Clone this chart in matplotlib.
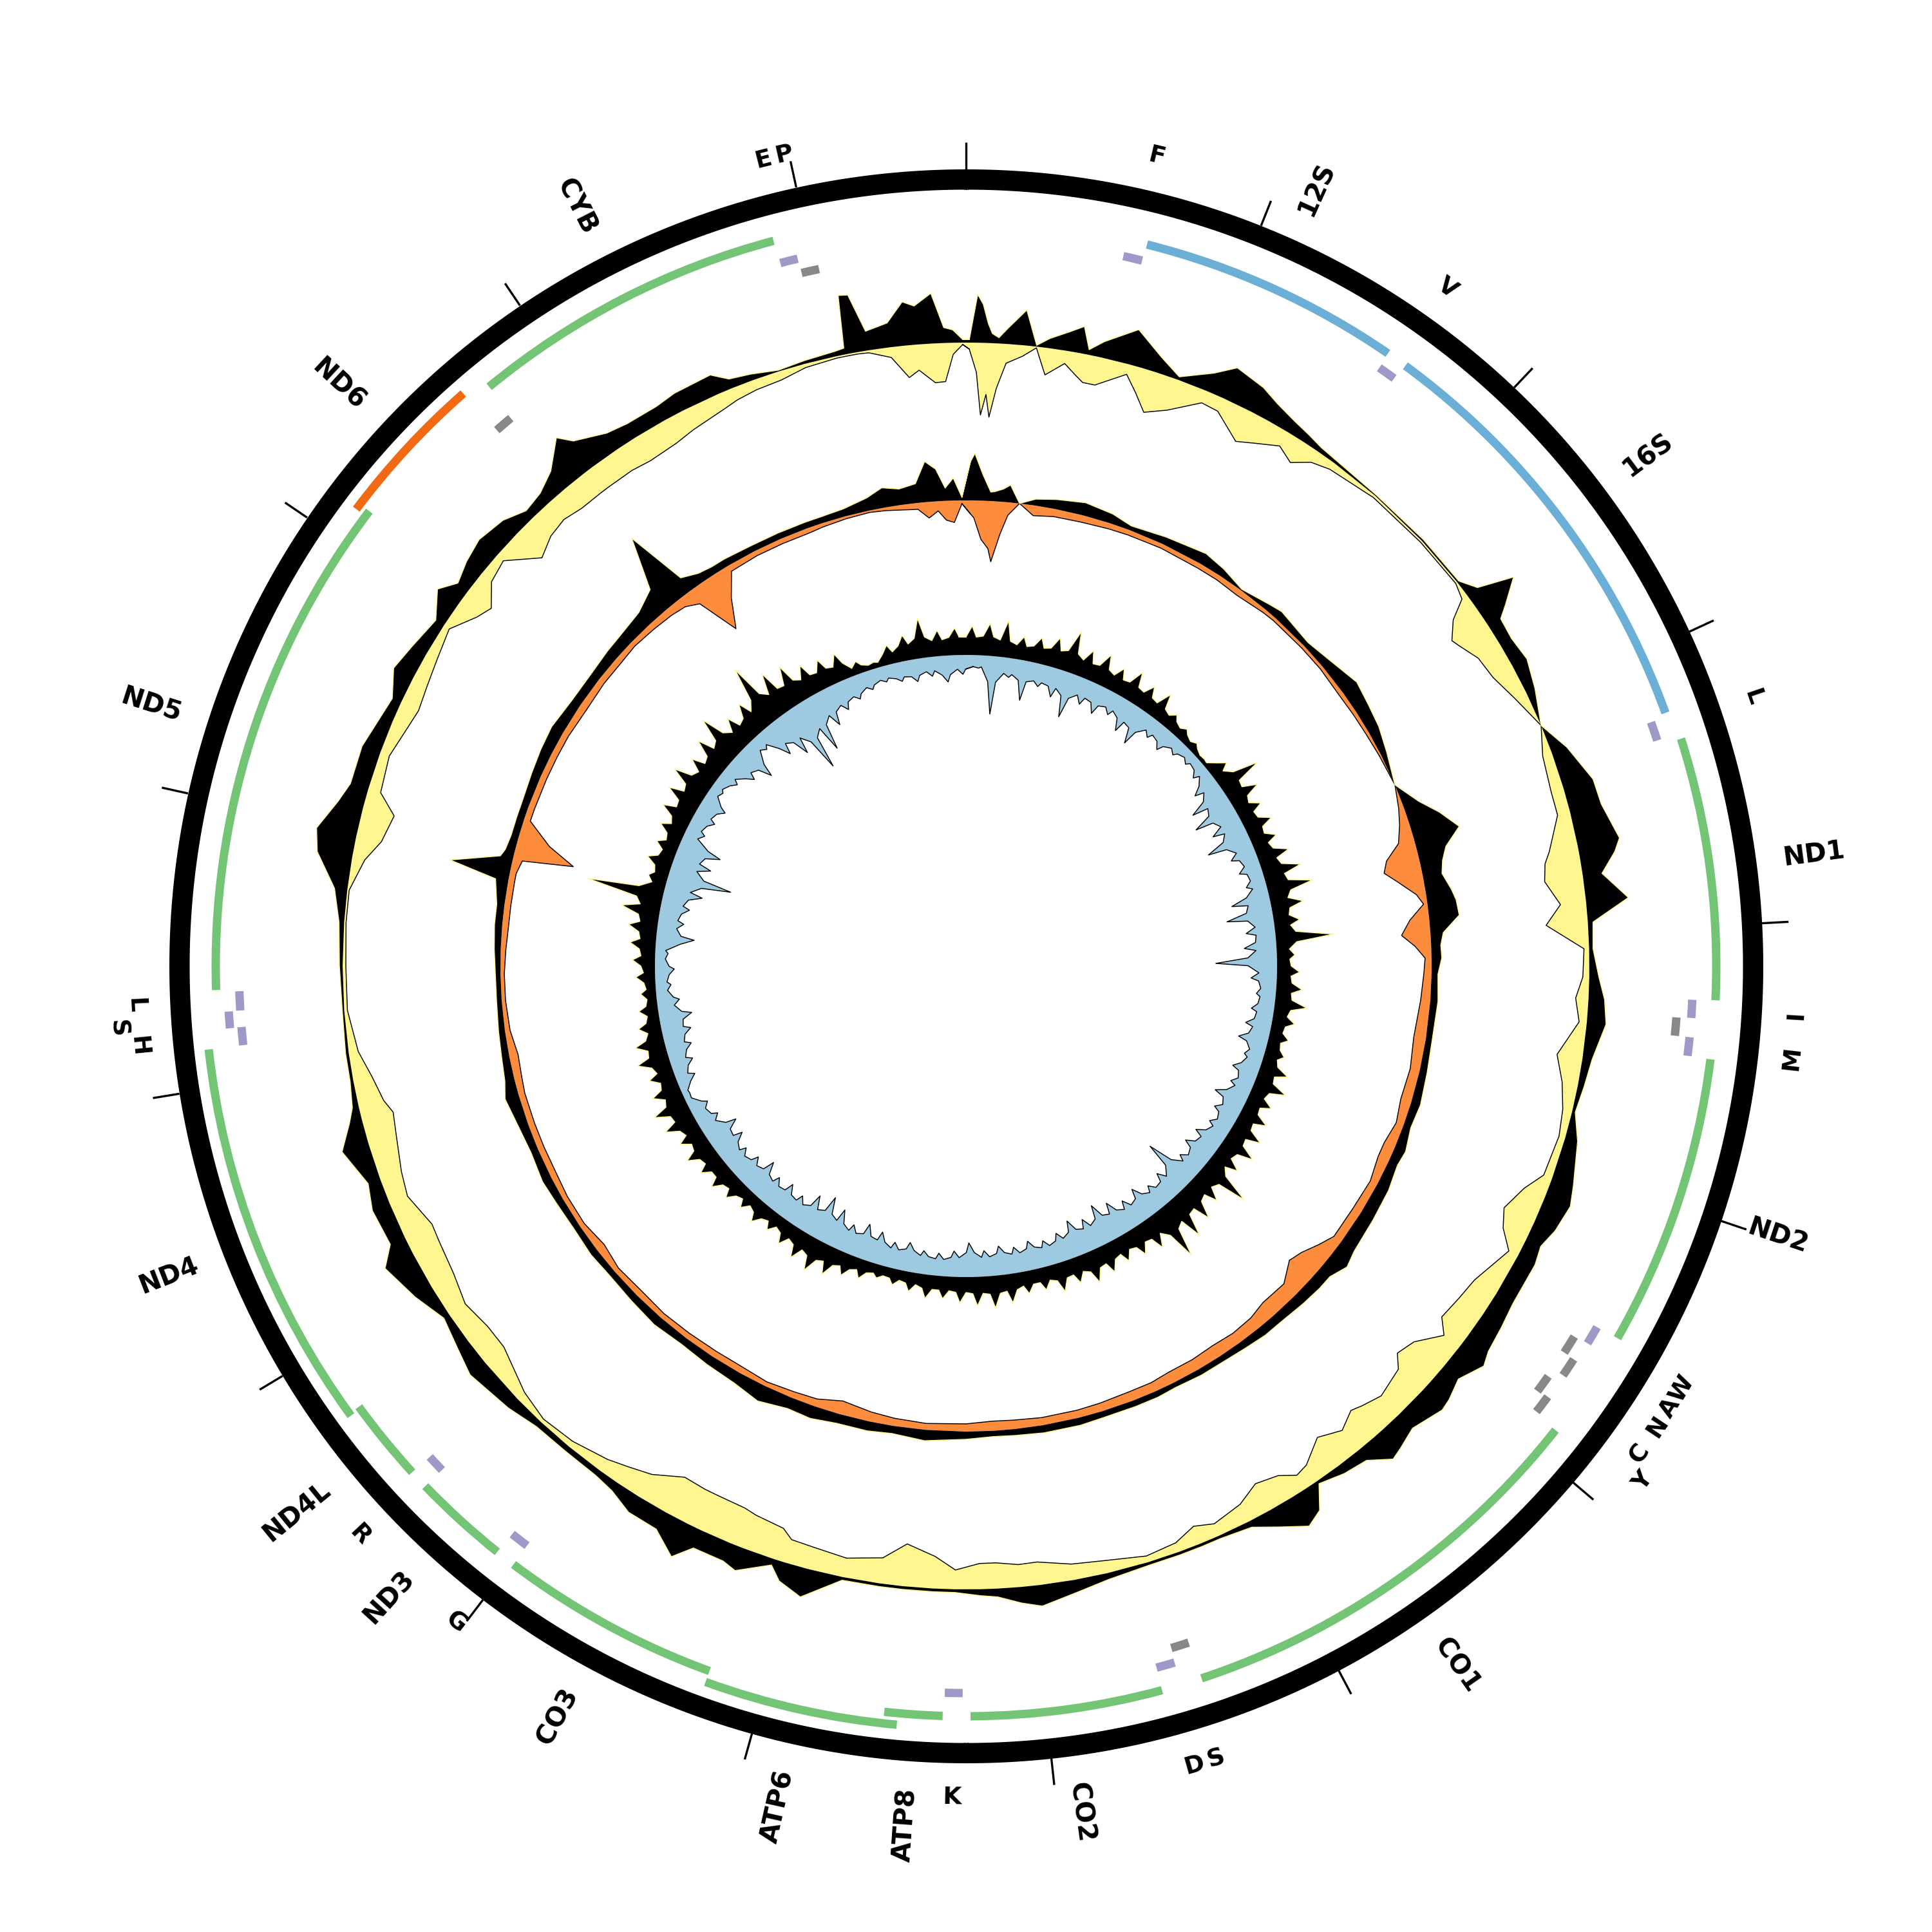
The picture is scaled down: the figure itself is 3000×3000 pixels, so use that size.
import numpy as np
import matplotlib
matplotlib.use("Agg")
import matplotlib.pyplot as plt

GENOME_LEN = 16566

# --- genome features ---
feat_name = ['F', '12S', 'V', '16S', 'L1', 'ND1', 'I', 'Q', 'M', 'ND2', 'W', 'A', 'N', 'C', 'Y',
             'CO1', 'S1', 'D', 'CO2', 'K', 'ATP8', 'ATP6', 'CO3', 'G', 'ND3', 'R', 'ND4L', 'ND4',
             'H', 'S2', 'L2', 'ND5', 'ND6', 'E', 'CYB', 'T', 'P']
feat_label = ['F', '12S', 'V', '16S', 'L', 'ND1', 'I', '', 'M', 'ND2', 'W', 'A', 'N', 'C', 'Y',
              'CO1', 'S', 'D', 'CO2', 'K', 'ATP8', 'ATP6', 'CO3', 'G', 'ND3', 'R', 'ND4L', 'ND4',
              'H', 'S', 'L', 'ND5', 'ND6', '', 'CYB', 'E', 'P']
feat_start = [575, 648, 1594, 1666, 3240, 3330, 4264, 4332, 4400, 4470, 5512, 5584, 5656, 5760, 5822,
              5900, 7445, 7516, 7586, 8295, 8365, 8523, 9203, 9992, 10062, 10405, 10472, 10760,
              12137, 12202, 12263, 12340, 14120, 14670, 14750, 15885, 15952]
feat_end = [645, 1590, 1660, 3226, 3310, 4262, 4330, 4400, 4468, 5510, 5580, 5654, 5726, 5828, 5890,
            7441, 7512, 7584, 8267, 8360, 8571, 9203, 9990, 10060, 10405, 10470, 10769, 12135,
            12203, 12262, 12333, 14142, 14666, 14738, 15882, 15950, 16018]
feat_kind = ['trna', 'rrna', 'trna', 'rrna', 'trna', 'cds', 'trna', 'trna_minus', 'trna', 'cds',
             'trna', 'trna_minus', 'trna_minus', 'trna_minus', 'trna_minus',
             'cds', 'trna_minus', 'trna', 'cds', 'trna', 'cds', 'cds', 'cds', 'trna', 'cds', 'trna',
             'cds', 'cds', 'trna', 'trna', 'trna', 'cds', 'cds_minus', 'trna_minus', 'cds', 'trna',
             'trna_minus']

# --- outer data track (black outward / yellow inward) ---
yel_pos = [14, 46, 69, 92, 110, 138, 175, 244, 299, 350,
           428, 483, 520, 575, 699, 759, 819, 916, 1045, 1123,
           1252, 1335, 1431, 1509, 1583, 1666, 1887, 2163, 2393, 2462,
           2513, 2586, 2623, 2715, 2821, 2945, 3097, 3221, 3378, 3483,
           3631, 3681, 3760, 3870, 3957, 4068, 4188, 4280, 4381, 4533,
           4648, 4763, 4878, 5057, 5140, 5255, 5338, 5416, 5600, 5706,
           5817, 5876, 5982, 6070, 6120, 6258, 6350, 6401, 6488, 6594,
           6705, 6764, 6834, 6939, 7041, 7179, 7266, 7363, 7501, 7680,
           7823, 7970, 8053, 8150, 8223, 8329, 8421, 8550, 8651, 8808,
           8960, 9061, 9111, 9245, 9305, 9438, 9503, 9609, 9742, 9848,
           9940, 10106, 10262, 10400, 10607, 10722, 10860, 10998, 11159, 11237,
           11394, 11504, 11661, 11766, 11826, 11937, 12056, 12236, 12425, 12609,
           12747, 12885, 12977, 13101, 13184, 13345, 13483, 13575, 13690, 13805,
           13948, 14058, 14127, 14219, 14321, 14445, 14541, 14633, 14725, 14827,
           14873, 15002, 15094, 15232, 15324, 15489, 15554, 15646, 15761, 15876,
           16014, 16051, 16069, 16106, 16152, 16244, 16313, 16359, 16428, 16474,
           16511, 16552]
yel_up = [5, 75, 60, 30, 15, 9, 25, 55, 2, 15,
          30, 42, 8, 25, 56, 40, 25, 5, 30, 52,
          42, 30, 20, 14, 8, 5, 2, 3, 3, 20,
          75, 40, 22, 20, 25, 15, 0, 25, 48, 50,
          66, 55, 30, 66, 8, 6, 15, 25, 30, 15,
          10, 5, 20, 35, 42, 35, 25, 30, 30, 35,
          40, 48, 30, 40, 43, 30, 40, 45, 20, 15,
          5, 40, 52, 30, 10, 5, 5, 5, 5, 10,
          20, 33, 25, 13, 10, 5, 5, 5, 5, 5,
          45, 30, 10, 37, 30, 30, 57, 30, 29, 15,
          10, 9, 10, 20, 30, 20, 10, 30, 49, 25,
          29, 20, 43, 20, 10, 5, 5, 3, 5, 8,
          20, 55, 63, 40, 29, 30, 20, 15, 34, 25,
          15, 40, 20, 30, 37, 30, 15, 20, 35, 70,
          50, 30, 25, 25, 30, 32, 15, 10, 2, 5,
          8, 10, 92, 90, 30, 38, 68, 60, 78, 24,
          20, 5]
yel_down = [10, 46, 112, 80, 115, 70, 30, 17, 2, 42,
            20, 35, 44, 44, 16, 40, 65, 50, 20, 22,
            52, 40, 25, 38, 20, 12, 4, 3, 3, 10,
            40, 60, 55, 40, 35, 20, 0, 15, 20, 20,
            45, 55, 60, 40, 65, 8, 10, 20, 12, 40,
            25, 15, 10, 14, 35, 52, 40, 16, 40, 45,
            50, 30, 60, 68, 50, 40, 49, 55, 40, 55,
            30, 25, 40, 47, 30, 20, 29, 15, 10, 20,
            25, 36, 35, 40, 40, 30, 50, 66, 40, 30,
            35, 37, 50, 55, 59, 60, 60, 62, 40, 30,
            21, 10, 6, 15, 38, 38, 30, 40, 45, 47,
            30, 35, 45, 50, 40, 30, 15, 5, 5, 3,
            3, 20, 40, 50, 20, 15, 25, 30, 25, 19,
            10, 35, 45, 20, 13, 54, 40, 35, 40, 40,
            40, 40, 43, 40, 34, 25, 20, 16, 14, 6,
            3, 3, 3, 3, 4, 16, 50, 40, 61, 60,
            18, 3]

# --- middle data track (black outward / orange inward) ---
ora_pos = [23, 46, 92, 138, 161, 207, 244, 304, 391, 506,
           667, 828, 948, 1150, 1390, 1519, 1666, 1841, 1919, 2144,
           2301, 2485, 2623, 2756, 2899, 3088, 3221, 3313, 3414, 3497,
           3566, 3635, 3727, 3787, 3870, 3957, 4026, 4096, 4188, 4339,
           4556, 4740, 4924, 5062, 5195, 5283, 5430, 5614, 5812, 5904,
           6005, 6088, 6212, 6378, 6488, 6626, 6764, 6907, 7068, 7179,
           7312, 7501, 7639, 7846, 8007, 8131, 8283, 8513, 8697, 8835,
           9010, 9157, 9295, 9461, 9618, 9802, 9986, 10170, 10354, 10538,
           10694, 10860, 11044, 11182, 11357, 11504, 11684, 11780, 11909, 12056,
           12227, 12379, 12517, 12655, 12770, 12908, 12959, 13037, 13078, 13161,
           13271, 13345, 13529, 13667, 13805, 13989, 14173, 14325, 14449, 14597,
           14725, 14817, 14895, 14988, 15070, 15153, 15324, 15485, 15646, 15738,
           15876, 16014, 16106, 16198, 16290, 16350, 16405, 16451, 16497, 16543]
ora_up = [60, 73, 40, 14, 15, 20, 27, 0, 10, 15,
          20, 15, 7, 12, 18, 12, 2, 10, 14, 8,
          15, 27, 22, 18, 10, 0, 25, 50, 73, 45,
          35, 30, 40, 45, 47, 20, 15, 16, 10, 12,
          10, 12, 15, 12, 18, 15, 20, 22, 25, 31,
          20, 20, 18, 15, 15, 12, 10, 10, 8, 10,
          10, 10, 12, 12, 10, 9, 12, 17, 12, 15,
          15, 20, 18, 26, 18, 15, 12, 15, 12, 10,
          12, 10, 12, 15, 12, 15, 22, 15, 12, 10,
          8, 8, 10, 12, 12, 20, 95, 20, 15, 12,
          12, 12, 15, 18, 20, 15, 15, 18, 20, 25,
          40, 120, 25, 15, 12, 12, 10, 10, 10, 10,
          12, 20, 31, 25, 30, 63, 50, 20, 35, 5]
ora_down = [20, 27, 60, 74, 94, 50, 20, 0, 16, 12,
            11, 9, 8, 7, 8, 8, 10, 6, 5, 5,
            5, 7, 6, 5, 3, 0, 8, 15, 25, 50,
            58, 40, 15, 6, 30, 45, 25, 10, 12, 15,
            19, 15, 17, 12, 18, 18, 12, 14, 14, 25,
            38, 44, 25, 26, 20, 18, 20, 18, 18, 15,
            15, 13, 12, 12, 14, 15, 12, 10, 12, 15,
            21, 12, 10, 7, 10, 10, 9, 8, 10, 8,
            14, 8, 8, 10, 10, 10, 10, 12, 14, 8,
            6, 6, 8, 10, 10, 10, 10, 15, 94, 50,
            10, 10, 10, 10, 10, 12, 10, 10, 8, 10,
            12, 15, 25, 89, 45, 10, 8, 8, 8, 6,
            4, 3, 5, 8, 10, 25, 15, 30, 34, 5]

# --- inner data track (black outward / blue inward) ---
# 120 windows; each window holds a spike value and a background value
blu_up_peak = [45, 50, 57, 36, 40, 47, 66, 45, 50, 40,
               49, 40, 45, 26, 20, 15, 7, 30, 69, 50,
               40, 44, 40, 50, 60, 71, 50, 40, 90, 28,
               35, 40, 50, 35, 31, 31, 45, 52, 40, 45,
               50, 54, 45, 81, 50, 60, 70, 86, 50, 44,
               40, 45, 50, 40, 45, 35, 35, 45, 50, 45,
               40, 35, 37, 30, 25, 21, 30, 35, 45, 52,
               45, 37, 30, 35, 30, 35, 40, 39, 45, 40,
               50, 55, 45, 40, 50, 46, 35, 30, 24, 30,
               35, 40, 45, 60, 120, 30, 40, 35, 40, 50,
               55, 63, 50, 60, 76, 50, 55, 100, 70, 64,
               50, 45, 43, 20, 10, 30, 40, 62, 40, 42]
blu_up_base = [28, 30, 26, 22, 25, 28, 32, 26, 28, 24,
               26, 24, 22, 18, 14, 10, 6, 18, 30, 28,
               24, 26, 24, 28, 32, 35, 28, 25, 32, 20,
               22, 24, 26, 22, 20, 22, 26, 28, 24, 26,
               28, 30, 26, 36, 30, 34, 36, 42, 30, 28,
               25, 28, 30, 25, 26, 22, 22, 26, 28, 26,
               24, 22, 22, 18, 16, 15, 18, 22, 26, 30,
               26, 22, 18, 22, 18, 22, 25, 25, 28, 25,
               30, 32, 28, 25, 30, 28, 22, 18, 15, 18,
               22, 25, 28, 32, 40, 22, 25, 22, 25, 30,
               32, 36, 30, 34, 40, 30, 34, 48, 38, 36,
               30, 28, 25, 12, 8, 18, 25, 32, 25, 28]
blu_down_peak = [20, 90, 30, 62, 35, 45, 70, 40, 45, 35,
                 50, 58, 30, 35, 24, 20, 25, 40, 60, 68,
                 50, 69, 40, 35, 31, 60, 72, 45, 50, 95,
                 40, 30, 35, 40, 46, 30, 41, 35, 51, 40,
                 35, 45, 48, 40, 83, 45, 40, 51, 45, 55,
                 63, 50, 57, 45, 40, 45, 40, 45, 40, 53,
                 40, 35, 36, 45, 40, 50, 55, 45, 60, 70,
                 60, 45, 50, 45, 56, 45, 40, 50, 54, 35,
                 30, 11, 30, 35, 40, 45, 51, 35, 24, 30,
                 20, 59, 40, 45, 60, 100, 60, 67, 30, 35,
                 40, 20, 30, 45, 60, 26, 55, 70, 110, 90,
                 60, 45, 37, 30, 25, 30, 35, 30, 41, 30]
blu_down_base = [18, 40, 25, 32, 28, 30, 38, 28, 30, 26,
                 32, 35, 22, 25, 18, 14, 16, 26, 35, 40,
                 32, 40, 28, 24, 22, 35, 40, 30, 32, 45,
                 28, 24, 26, 28, 32, 24, 30, 26, 35, 30,
                 26, 32, 35, 30, 45, 32, 30, 36, 32, 38,
                 42, 36, 40, 34, 30, 34, 30, 34, 30, 38,
                 30, 26, 28, 34, 30, 36, 38, 34, 40, 45,
                 40, 34, 36, 34, 38, 34, 30, 36, 38, 26,
                 22, 10, 20, 25, 30, 34, 36, 26, 18, 22,
                 16, 38, 30, 34, 40, 55, 40, 45, 22, 26,
                 30, 16, 22, 34, 40, 20, 38, 45, 60, 50,
                 40, 34, 30, 24, 20, 24, 26, 22, 30, 22]

KIND_COLOR = {'cds': '#74c476', 'cds_minus': '#f16913', 'rrna': '#6baed6',
              'trna': '#9e9ac8', 'trna_minus': '#888888'}
YELLOW = '#fff68f'
ORANGE = '#fd8d3c'
BLUE = '#9ecae1'


def to_theta(bp):
    return 2 * np.pi * np.asarray(bp, dtype=float) / GENOME_LEN


def stack_levels(idx, pad=10):
    # greedy stacking: a feature goes to the first level where it does not touch the previous one
    levels = {}
    last_end = []
    for i in sorted(idx, key=lambda k: feat_start[k]):
        for lv, e in enumerate(last_end):
            if feat_start[i] > e + pad:
                break
        else:
            lv = len(last_end)
            last_end.append(-1e9)
        last_end[lv] = feat_end[i]
        levels[i] = lv
    return levels


fig = plt.figure(figsize=(10, 10), dpi=300)
ax = fig.add_axes([0, 0, 1, 1], projection='polar')
ax.set_theta_zero_location('N')
ax.set_theta_direction(-1)
ax.set_ylim(0, 1500)
ax.axis('off')

# outer ring + ticks every 1 kb
ring = np.linspace(0, 2 * np.pi, 1441)
ax.fill_between(ring, 1206, 1237.5, color='black', lw=0)
for t in range(0, GENOME_LEN, 1000):
    th = to_theta(t)
    ax.plot([th, th], [1237.5, 1279], color='black', lw=0.8, solid_capstyle='butt')

# feature tracks
BASE_R = {'cds': 1165, 'cds_minus': 1165, 'rrna': 1155, 'trna': 1129, 'trna_minus': 1106}
groups = {'cds': ['cds', 'cds_minus'], 'rrna': ['rrna'], 'trna': ['trna'], 'trna_minus': ['trna_minus']}
level = {}
for g, kinds in groups.items():
    idx = [i for i, k in enumerate(feat_kind) if k in kinds]
    level.update(stack_levels(idx))

BAR_H = 13
BUMP = 18
for i in range(len(feat_name)):
    s, e = feat_start[i], feat_end[i]
    th0, th1 = to_theta(s), to_theta(e)
    r = BASE_R[feat_kind[i]] + level[i] * BUMP
    ax.bar((th0 + th1) / 2, BAR_H, width=th1 - th0, bottom=r - BAR_H / 2,
           color=KIND_COLOR[feat_kind[i]], lw=0)

# labels
trna_idx = [i for i, k in enumerate(feat_kind) if k.startswith('trna') and feat_label[i]]
trna_idx.sort(key=lambda i: feat_start[i] + feat_end[i])
label_bump = {}
prev_mid, prev_b = -1e9, False
for i in trna_idx:
    mid = (feat_start[i] + feat_end[i]) / 2
    b = (mid - prev_mid < 65) and not prev_b
    label_bump[i] = b
    prev_mid, prev_b = mid, b

for i in range(len(feat_name)):
    lab = feat_label[i]
    if not lab:
        continue
    mid = (feat_start[i] + feat_end[i]) / 2
    deg = mid / GENOME_LEN * 360
    th = np.deg2rad(deg)
    if feat_kind[i].startswith('trna'):
        rot = -deg if (deg < 90 or deg > 270) else 180 - deg
        r = 1291 + (30 if label_bump.get(i) else 0)
        ax.text(th, r, lab, rotation=rot, rotation_mode='anchor', ha='center',
                va='center', fontsize=9, fontweight='bold')
    else:
        if deg < 180:
            rot, ha = 90 - deg, 'left'
        else:
            rot, ha = 270 - deg, 'right'
        ax.text(th, 1280, lab, rotation=rot, rotation_mode='anchor', ha=ha,
                va='center', fontsize=9.8, fontweight='bold')


def draw_side(pos, vals, r0, outward, face, edge):
    pos = np.asarray(pos, dtype=float)
    vals = np.asarray(vals, dtype=float)
    p = np.r_[pos[-1] - GENOME_LEN, pos, pos[0] + GENOME_LEN]
    v = np.r_[vals[-1], vals, vals[0]]
    th = to_theta(p)
    r = r0 + v if outward else r0 - v
    ax.fill_between(th, np.minimum(r, r0), np.maximum(r, r0), facecolor=face, edgecolor='none')
    ax.plot(th, r, color=edge, lw=0.35)


def draw_track(pos, up, down, r0, color):
    draw_side(pos, down, r0, False, color, 'black')
    draw_side(pos, up, r0, True, 'black', YELLOW)


draw_track(yel_pos, yel_up, yel_down, 968, YELLOW)
draw_track(ora_pos, ora_up, ora_down, 723, ORANGE)

# blue track: narrow spikes inside each window, inner and outer spikes staggered
n_win = len(blu_up_peak)
win = GENOME_LEN / n_win
w0 = np.arange(n_win) * win
up_pos = np.column_stack([w0, w0 + 0.35 * win, w0 + 0.6 * win]).ravel()
up_val = np.column_stack([blu_up_base, blu_up_peak, blu_up_base]).ravel()
dn_pos = np.column_stack([w0 + 0.45 * win, w0 + 0.8 * win, w0 + 0.98 * win]).ravel()
dn_val = np.column_stack([blu_down_base, blu_down_peak, blu_down_base]).ravel()
draw_side(dn_pos, dn_val, 483, False, BLUE, 'black')
draw_side(up_pos, up_val, 483, True, 'black', YELLOW)

fig.savefig('out.png', dpi=300, facecolor='white')
